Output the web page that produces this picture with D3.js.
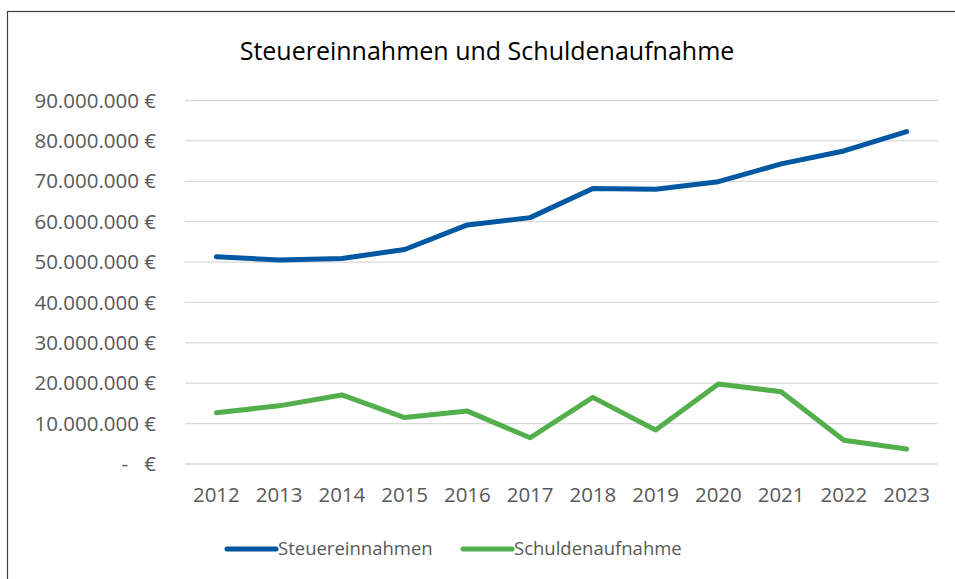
<!DOCTYPE html>
<html>
<head>
<meta charset="utf-8">
<script src="https://cdn.jsdelivr.net/npm/d3@7"></script>
<style>
  html, body { margin: 0; padding: 0; background: #fff; }
  svg { display: block; }
  text { font-family: "Open Sans", "Liberation Sans", sans-serif; }
</style>
</head>
<body>
<svg id="chart" width="955" height="579"></svg>
<script>
// values
const years = ["2012", "2013", "2014", "2015", "2016", "2017",
               "2018", "2019", "2020", "2021", "2022", "2023"];
const steuereinnahmen = [51.3, 50.5, 50.9, 53.1, 59.2, 61.0,
                         68.2, 68.0, 69.9, 74.3, 77.5, 82.3].map(v => v * 1e6);
const schuldenaufnahme = [12.7, 14.4, 17.1, 11.5, 13.1, 6.5,
                          16.5, 8.4, 19.8, 17.9, 5.9, 3.7].map(v => v * 1e6);
const yTicks = [0, 10e6, 20e6, 30e6, 40e6, 50e6, 60e6, 70e6, 80e6, 90e6];

const series = [
  { name: "Steuereinnahmen", values: steuereinnahmen, color: "#0057a2" },
  { name: "Schuldenaufnahme", values: schuldenaufnahme, color: "#53ae4c" }
];

const svg = d3.select("#chart");

// outer frame (runs off the right and bottom edge like the screenshot)
svg.append("rect")
    .attr("x", 7.5).attr("y", 11.5)
    .attr("width", 960).attr("height", 600)
    .attr("fill", "none")
    .attr("stroke", "#404040")
    .attr("stroke-width", 1.2);

const plot = { left: 185, right: 938, top: 100.5, bottom: 464 };

const x = d3.scaleBand().domain(years).range([plot.left, plot.right]);
const y = d3.scaleLinear().domain([0, 90e6]).range([plot.bottom, plot.top]);

// gridlines
svg.append("g")
  .selectAll("line")
  .data(yTicks)
  .join("line")
    .attr("x1", plot.left).attr("x2", plot.right)
    .attr("y1", d => y(d)).attr("y2", d => y(d))
    .attr("stroke", "#d9d9d9")
    .attr("stroke-width", 1.3);

// y labels, accounting style
const fmt = d3.formatLocale({ decimal: ",", thousands: ".", grouping: [3], currency: ["", " €"] });
const yLab = svg.append("g").attr("fill", "#595959").attr("font-size", 20.5);
yLab.selectAll("text.val")
  .data(yTicks.filter(d => d > 0))
  .join("text")
    .attr("class", "val")
    .attr("x", 156).attr("y", d => y(d))
    .attr("dy", "0.35em")
    .attr("text-anchor", "end")
    .text(d => fmt.format(",")(d) + " €");
yLab.append("text")
    .attr("x", 156).attr("y", y(0)).attr("dy", "0.35em")
    .attr("text-anchor", "end").text("€");
yLab.append("text")
    .attr("x", 128).attr("y", y(0)).attr("dy", "0.35em")
    .attr("text-anchor", "end").text("-");

// x labels
svg.append("g").attr("fill", "#595959").attr("font-size", 20.5)
  .selectAll("text")
  .data(years)
  .join("text")
    .attr("x", d => x(d) + x.bandwidth() / 2)
    .attr("y", 502)
    .attr("text-anchor", "middle")
    .text(d => d);

// lines
const line = d3.line()
    .x((d, i) => x(years[i]) + x.bandwidth() / 2)
    .y(d => y(d));

svg.append("g")
  .selectAll("path")
  .data(series)
  .join("path")
    .attr("d", d => line(d.values))
    .attr("fill", "none")
    .attr("stroke", d => d.color)
    .attr("stroke-width", 5)
    .attr("stroke-linejoin", "round")
    .attr("stroke-linecap", "round");

// title
svg.append("text")
    .attr("x", 487).attr("y", 60)
    .attr("text-anchor", "middle")
    .attr("font-size", 25)
    .attr("fill", "#000")
    .text("Steuereinnahmen und Schuldenaufnahme");

// legend
const legendX = [227, 463];
const leg = svg.append("g")
  .selectAll("g")
  .data(series)
  .join("g")
    .attr("transform", (d, i) => `translate(${legendX[i]},549)`);
leg.append("line")
    .attr("x1", 0).attr("x2", 49)
    .attr("stroke", d => d.color)
    .attr("stroke-width", 5)
    .attr("stroke-linecap", "round");
leg.append("text")
    .attr("x", 51).attr("dy", "0.35em")
    .attr("font-size", 18.5)
    .attr("fill", "#595959")
    .text(d => d.name);
</script>
</body>
</html>
